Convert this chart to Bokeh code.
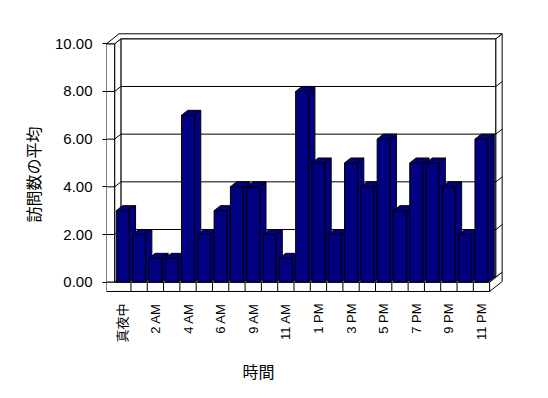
import math
from bokeh.plotting import figure
from bokeh.models import Range1d, FixedTicker, NumeralTickFormatter, Title
from bokeh.embed import file_html
from bokeh.resources import INLINE

# ---- data ----
hours = ["真夜中", "1 AM", "2 AM", "3 AM", "4 AM", "5 AM", "6 AM", "7 AM", "9 AM",
         "10 AM", "11 AM", "正午", "1 PM", "2 PM", "3 PM", "4 PM", "5 PM", "6 PM",
         "7 PM", "8 PM", "9 PM", "10 PM", "11 PM"]
visits = [3, 2, 1, 1, 7, 2, 3, 4, 4, 2, 1, 8, 5, 2, 5, 4, 6, 3, 5, 5, 4, 2, 6]
y_ticks = [0, 2, 4, 6, 8, 10]
label_step = 2
x_title = "時間"
y_title = "訪問数の平均"

# ---- 3D box geometry (in data units) ----
BAR_W = 0.8
WALL_T = 0.5
FLOOR_T = 0.39
a1, b1 = 0.383, 0.21     # depth of bars / back wall front face
a2, b2 = 0.767, 0.419    # back face of back wall
BAR_COLOR = "#000080"
FONT = "'Liberation Sans', 'Noto Sans CJK JP'"

n = len(visits)
XI = -0.5
XL = XI - WALL_T
XR = n - 0.5
YT = y_ticks[-1]
YF = -FLOOR_T

p = figure(frame_width=397, frame_height=260,
           x_range=Range1d(-1.0, 23.35), y_range=Range1d(-0.432, 10.474),
           output_backend="svg", toolbar_location=None,
           min_border_left=106, min_border_right=45,
           min_border_top=32, min_border_bottom=106)
p.outline_line_color = None
p.xgrid.visible = False
p.ygrid.visible = False
p.background_fill_color = "white"
p.border_fill_color = "white"

# walls
wall_xs, wall_ys = [], []
def add(lst_x, lst_y, xs, ys):
    lst_x.append(xs); lst_y.append(ys)

add(wall_xs, wall_ys, [XI + a1, XR + a1, XR + a1, XI + a1], [b1, b1, YT + b1, YT + b1])
add(wall_xs, wall_ys, [XR + a1, XR + a2, XR + a2, XR + a1], [b1, b2, YT + b2, YT + b1])
add(wall_xs, wall_ys, [XI, XI + a1, XI + a1, XI], [0, b1, YT + b1, YT])
add(wall_xs, wall_ys, [XL, XI, XI, XL], [0, 0, YT, YT])
add(wall_xs, wall_ys, [XL, XI, XI + a1, XR + a1, XR + a2, XL + a2],
    [YT, YT, YT + b1, YT + b1, YT + b2, YT + b2])
p.patches(wall_xs, wall_ys, fill_color="white", line_color="black", line_width=1)

# gridlines
gx, gy = [], []
for v in y_ticks[1:-1]:
    gx.append([XL, XI, XI + a1, XR + a1, XR + a2])
    gy.append([v, v, v + b1, v + b1, v + b2])
p.multi_line(gx, gy, line_color="black", line_width=1)

# floor
fl_xs, fl_ys = [], []
add(fl_xs, fl_ys, [XI, XR, XR + a1, XI + a1], [0, 0, b1, b1])
add(fl_xs, fl_ys, [XL, XR, XR, XL], [YF, YF, 0, 0])
add(fl_xs, fl_ys, [XR, XR + a2, XR + a2, XR], [YF, YF + b2, b2, 0])
p.patches(fl_xs, fl_ys, fill_color="white", line_color="black", line_width=1)
dx = [[i + 0.5, i + 0.5] for i in range(n - 1)]
dy = [[YF, 0] for _ in range(n - 1)]
p.multi_line(dx, dy, line_color="black", line_width=1)

# bars
bx, by = [], []
for i, v in enumerate(visits):
    x0, x1 = i - BAR_W / 2, i + BAR_W / 2
    add(bx, by, [x0, x1, x1, x0], [0, 0, v, v])
    add(bx, by, [x0, x1, x1 + a1, x0 + a1], [v, v, v + b1, v + b1])
    add(bx, by, [x1, x1 + a1, x1 + a1, x1], [0, b1, v + b1, v])
p.patches(bx, by, fill_color=BAR_COLOR, line_color="black", line_width=1)

# axes
ya = p.yaxis[0]
ya.ticker = FixedTicker(ticks=y_ticks)
ya.formatter = NumeralTickFormatter(format="0.00")
ya.axis_line_color = None
ya.major_tick_out = 4
ya.major_tick_in = 0
ya.minor_tick_line_color = None
ya.major_tick_line_color = "black"
ya.major_label_standoff = 10
ya.major_label_text_font = FONT
ya.major_label_text_font_size = "15px"
ya.major_label_text_color = "black"

xa = p.xaxis[0]
xa.ticker = FixedTicker(ticks=list(range(0, n, label_step)))
xa.major_label_overrides = {i: hours[i] for i in range(0, n, label_step)}
xa.major_label_orientation = math.pi / 2
xa.axis_line_color = None
xa.major_tick_out = 0
xa.major_tick_in = 0
xa.minor_tick_line_color = None
xa.major_label_standoff = 11
xa.major_label_text_font = FONT
xa.major_label_text_font_size = "13px"
xa.major_label_text_color = "black"

p.add_layout(Title(text=x_title, align="left", offset=136, standoff=23,
                   text_font="Noto Sans CJK JP", text_font_size="16px",
                   text_font_style="normal", text_color="black"), "below")
p.add_layout(Title(text=y_title, align="left", offset=70, standoff=14,
                   text_font="Noto Sans CJK JP", text_font_size="16px",
                   text_font_style="normal", text_color="black"), "left")

open("out.html", "w").write(file_html(p, INLINE))
